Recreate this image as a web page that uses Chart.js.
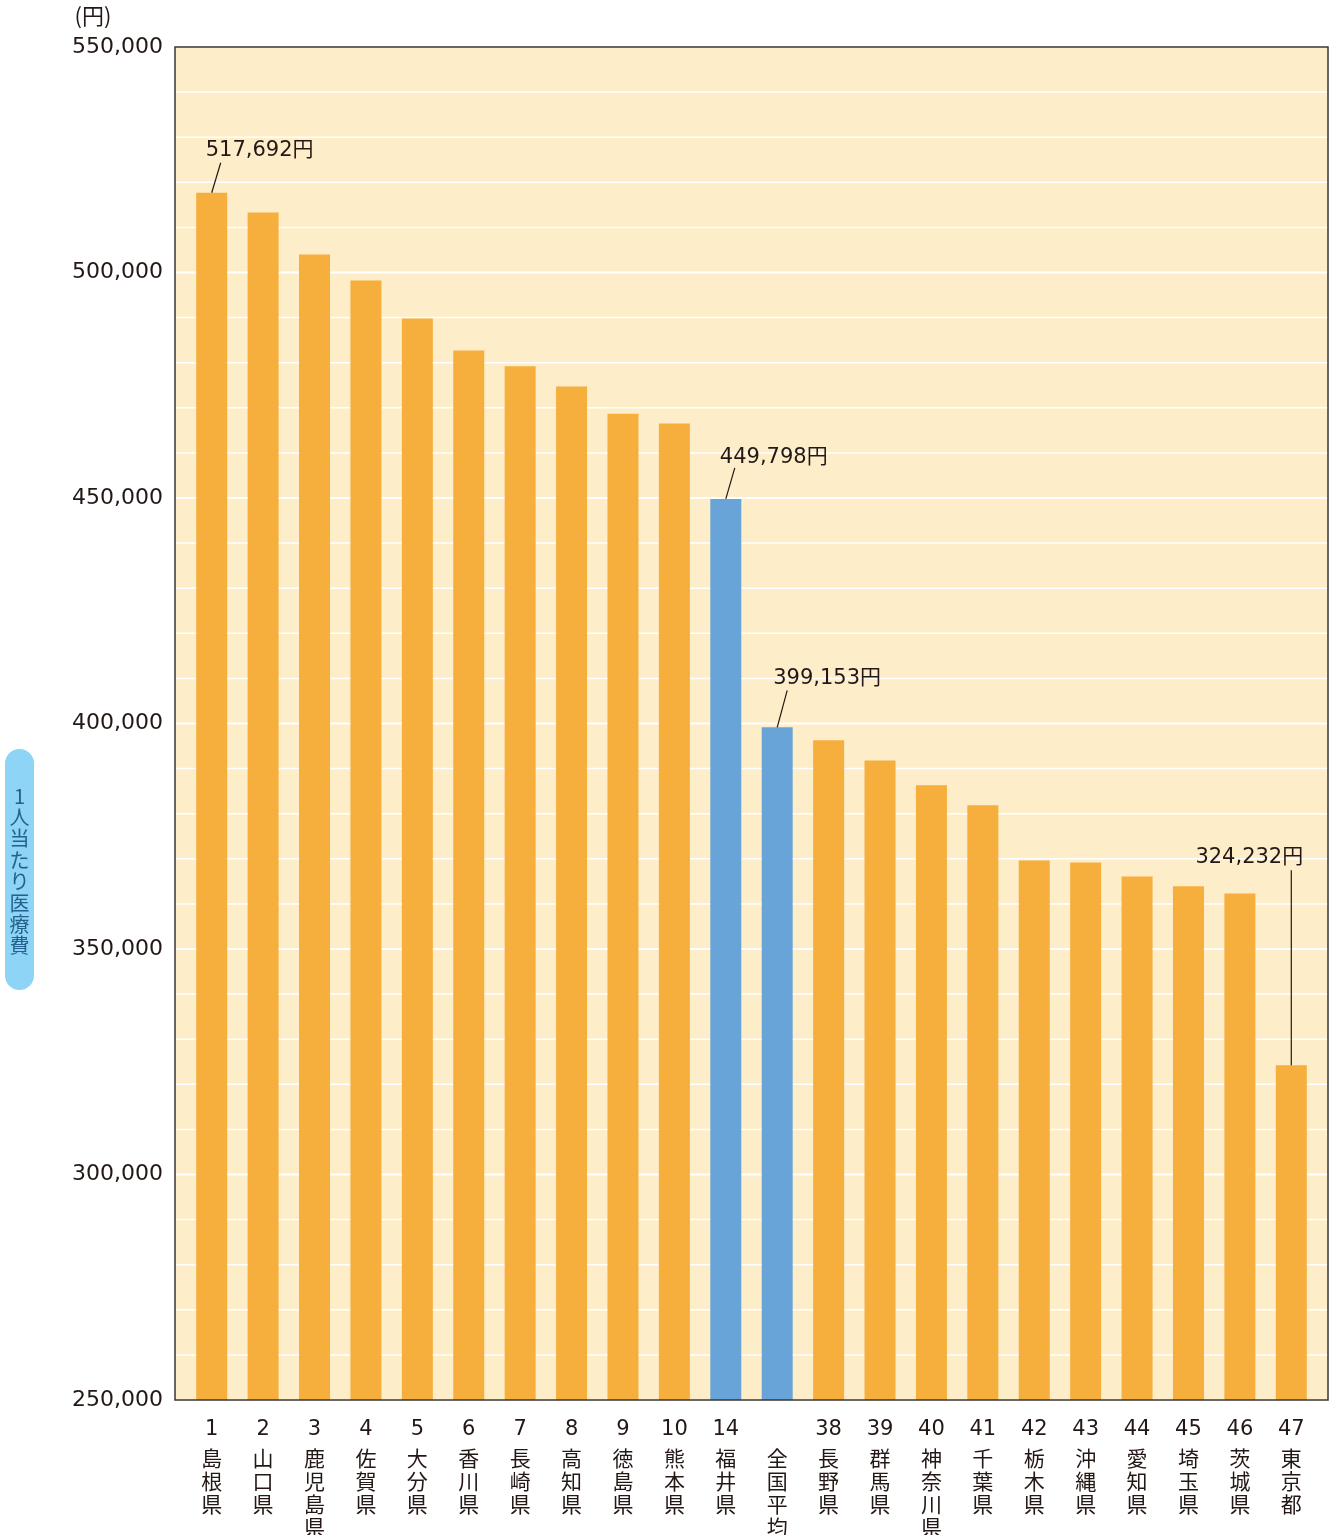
<!DOCTYPE html>
<html>
<head>
<meta charset="utf-8">
<script src="https://cdn.jsdelivr.net/npm/chart.js@4.4.1/dist/chart.umd.min.js"></script>
<style>
  body { margin: 0; background: #fff; }
  #wrap { width: 1331px; height: 1535px; }
</style>
</head>
<body>
<div id="wrap"><canvas id="medChart" width="1331" height="1535"></canvas></div>
<script>
// 都道府県別 1人当たり医療費
const ranks = ['1', '2', '3', '4', '5', '6', '7', '8', '9', '10', '14', '', '38', '39', '40', '41', '42', '43', '44', '45', '46', '47'];
const names = ['島根県', '山口県', '鹿児島県', '佐賀県', '大分県', '香川県', '長崎県', '高知県', '徳島県', '熊本県', '福井県', '全国平均',
  '長野県', '群馬県', '神奈川県', '千葉県', '栃木県', '沖縄県', '愛知県', '埼玉県', '茨城県', '東京都'];
const costs = [517692, 513300, 504000, 498200, 489800, 482700, 479200, 474700, 468700, 466500, 449798, 399153,
  396300, 391800, 386300, 381900, 369600, 369200, 366100, 363900, 362300, 324232];
const highlighted = ['福井県', '全国平均'];
const yTicks = [250000, 300000, 350000, 400000, 450000, 500000, 550000];
const labelled = ['島根県', '福井県', '全国平均', '東京都'];

const INK = '#231815';
const NUM_FONT = '"DejaVu Sans", "Noto Sans CJK JP", sans-serif';
const JP_FONT = '"Noto Sans CJK JP", sans-serif';

// leader line / label offsets for the value callouts (px from bar top centre)
const callout = {
  '島根県': { lx: 9, ly: -30, tx: -6, ty: -37, align: 'left' },
  '福井県': { lx: 9, ly: -31, tx: -6, ty: -36, align: 'left' },
  '全国平均': { lx: 10, ly: -37, tx: -4, ty: -43, align: 'left' },
  '東京都': { lx: 0, ly: -195, tx: -42, ty: -202, align: 'center' }
};

const decor = {
  id: 'decor',
  beforeDatasetsDraw(chart) {
    const { ctx, chartArea: a, scales: { y } } = chart;
    const L = a.left - 11, R = a.right + 11;
    ctx.save();
    ctx.fillStyle = '#FEEDC9';
    ctx.fillRect(L, a.top, R - L, a.bottom - a.top);
    ctx.strokeStyle = '#ffffff';
    y.ticks.forEach(t => {
      const py = y.getPixelForValue(t.value);
      ctx.lineWidth = t.value % 50000 === 0 ? 2 : 1.5;
      ctx.beginPath();
      ctx.moveTo(L, py);
      ctx.lineTo(R, py);
      ctx.stroke();
    });
    ctx.restore();
  },
  afterDatasetsDraw(chart) {
    const { ctx, chartArea: a } = chart;
    const L = a.left - 11, R = a.right + 11;
    ctx.save();
    ctx.strokeStyle = '#3a3431';
    ctx.lineWidth = 1.5;
    ctx.strokeRect(L, a.top, R - L, a.bottom - a.top);

    const meta = chart.getDatasetMeta(0);
    ctx.fillStyle = INK;
    ctx.strokeStyle = INK;
    ctx.lineWidth = 1.2;
    ctx.font = '21px ' + NUM_FONT;
    ctx.textBaseline = 'alphabetic';
    labelled.forEach(n => {
      const i = names.indexOf(n);
      const el = meta.data[i];
      const c = callout[n];
      ctx.beginPath();
      ctx.moveTo(el.x, el.y);
      ctx.lineTo(el.x + c.lx, el.y + c.ly);
      ctx.stroke();
      ctx.textAlign = c.align;
      ctx.fillText(costs[i].toLocaleString('en-US') + '円', el.x + c.tx, el.y + c.ty);
    });
    ctx.restore();
  },
  afterDraw(chart) {
    const { ctx } = chart;
    ctx.save();
    // unit
    ctx.fillStyle = INK;
    ctx.font = '22px ' + JP_FONT;
    ctx.textAlign = 'center';
    ctx.textBaseline = 'middle';
    ctx.fillText('(円)', 93, 16);
    // axis title pill
    ctx.fillStyle = '#8ED4F6';
    ctx.beginPath();
    ctx.roundRect(5, 749, 29, 241, 14.5);
    ctx.fill();
    ctx.fillStyle = '#24618F';
    ctx.font = '20px ' + JP_FONT;
    const title = '1人当たり医療費';
    [...title].forEach((ch, k) => ctx.fillText(ch, 19.5, 796 + k * 21.4));
    ctx.restore();
  }
};

new Chart(document.getElementById('medChart'), {
  type: 'bar',
  data: {
    labels: ranks,
    datasets: [{
      data: costs,
      backgroundColor: names.map(n => highlighted.includes(n) ? '#68A4D8' : '#F6AE3D'),
      barPercentage: 0.603,
      categoryPercentage: 1.0
    }]
  },
  options: {
    responsive: false,
    animation: false,
    devicePixelRatio: 1,
    layout: { padding: { top: 47, right: 14, left: 0, bottom: 0 } },
    plugins: { legend: { display: false }, tooltip: { enabled: false } },
    scales: {
      y: {
        min: 250000,
        max: 550000,
        grid: { display: false, drawTicks: false },
        border: { display: false },
        afterFit: s => { s.width = 186; },
        ticks: {
          stepSize: 10000,
          padding: 23,
          color: INK,
          font: { family: NUM_FONT, size: 22 },
          callback: v => yTicks.includes(v) ? v.toLocaleString('en-US') : ''
        }
      },
      x: {
        weight: 0,
        grid: { display: false, drawTicks: false },
        border: { display: false },
        afterFit: s => { s.height = 42; },
        ticks: {
          padding: 17,
          maxRotation: 0,
          autoSkip: false,
          color: INK,
          font: { family: NUM_FONT, size: 21 }
        }
      },
      x2: {
        type: 'category',
        position: 'bottom',
        weight: 1,
        labels: names.map(n => n.split('')),
        grid: { display: false, drawTicks: false },
        border: { display: false },
        afterFit: s => { s.height = 93; },
        ticks: {
          padding: 4,
          maxRotation: 0,
          autoSkip: false,
          color: INK,
          font: { family: JP_FONT, size: 21, lineHeight: 1.1 }
        }
      }
    }
  },
  plugins: [decor]
});
</script>
</body>
</html>
